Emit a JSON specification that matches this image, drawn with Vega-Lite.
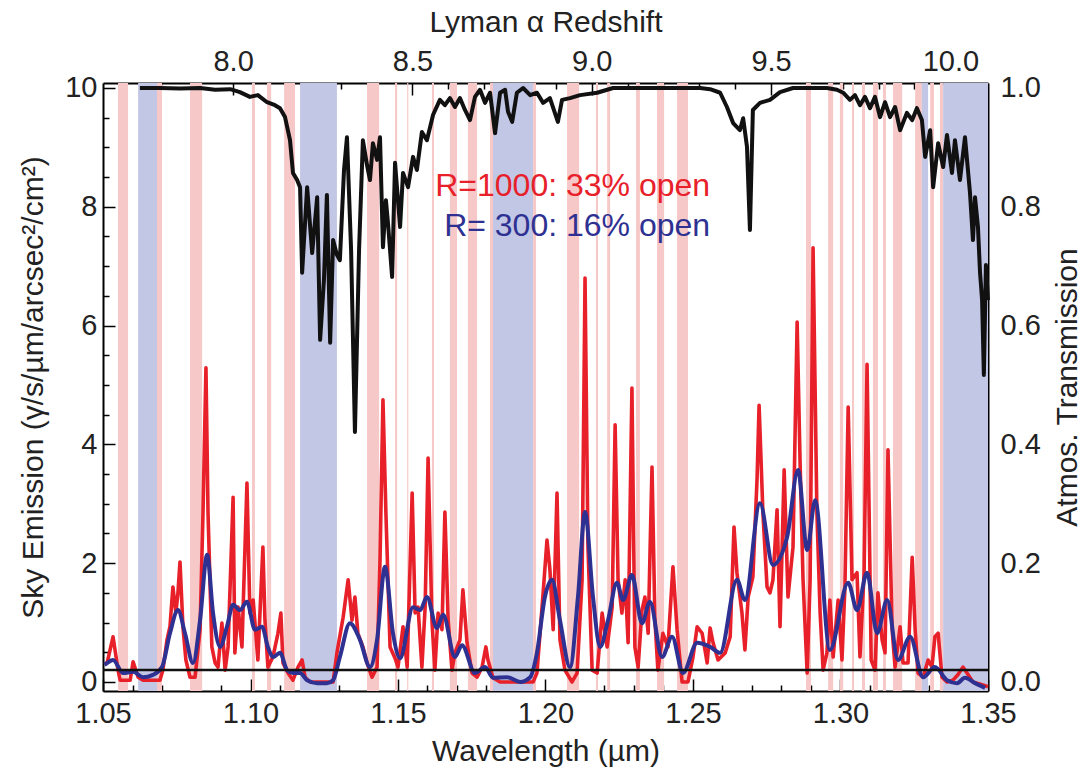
{
  "$schema": "https://vega.github.io/schema/vega-lite/v6.json",
  "width": 885,
  "height": 608,
  "autosize": {"type": "none"},
  "padding": {"left": 103, "top": 83, "right": 98, "bottom": 78},
  "background": "white",
  "config": {
    "view": {"stroke": null},
    "font": "Liberation Sans",
    "axis": {
      "domainColor": "#000", "domainWidth": 2, "tickColor": "#000", "tickWidth": 1.5,
      "labelFontSize": 29, "titleFontSize": 30, "labelColor": "#222", "titleColor": "#222",
      "titleFontWeight": "normal", "labelFont": "Liberation Sans", "titleFont": "Liberation Sans",
      "grid": false, "labelOverlap": false, "labelFlush": false
    }
  },
  "datasets": {
    "bands": [
      {"lam": 1.0551, "lam2": 1.0585, "kind": "pink"},
      {"lam": 1.0619, "lam2": 1.0683, "kind": "blue"},
      {"lam": 1.0683, "lam2": 1.0700, "kind": "pink"},
      {"lam": 1.0795, "lam2": 1.0836, "kind": "pink"},
      {"lam": 1.1005, "lam2": 1.1015, "kind": "pink"},
      {"lam": 1.1056, "lam2": 1.1070, "kind": "pink"},
      {"lam": 1.1114, "lam2": 1.1151, "kind": "pink"},
      {"lam": 1.1168, "lam2": 1.1293, "kind": "blue"},
      {"lam": 1.1395, "lam2": 1.1436, "kind": "pink"},
      {"lam": 1.1490, "lam2": 1.1497, "kind": "pink"},
      {"lam": 1.1531, "lam2": 1.1535, "kind": "pink"},
      {"lam": 1.1615, "lam2": 1.1622, "kind": "pink"},
      {"lam": 1.1676, "lam2": 1.1700, "kind": "pink"},
      {"lam": 1.1737, "lam2": 1.1768, "kind": "pink"},
      {"lam": 1.1812, "lam2": 1.1822, "kind": "pink"},
      {"lam": 1.1822, "lam2": 1.1958, "kind": "blue"},
      {"lam": 1.1958, "lam2": 1.1968, "kind": "pink"},
      {"lam": 1.2073, "lam2": 1.2114, "kind": "pink"},
      {"lam": 1.2171, "lam2": 1.2178, "kind": "pink"},
      {"lam": 1.2209, "lam2": 1.2219, "kind": "pink"},
      {"lam": 1.2307, "lam2": 1.2320, "kind": "pink"},
      {"lam": 1.2378, "lam2": 1.2402, "kind": "pink"},
      {"lam": 1.2446, "lam2": 1.2483, "kind": "pink"},
      {"lam": 1.2883, "lam2": 1.2900, "kind": "pink"},
      {"lam": 1.2958, "lam2": 1.2975, "kind": "pink"},
      {"lam": 1.2998, "lam2": 1.3009, "kind": "pink"},
      {"lam": 1.3039, "lam2": 1.3046, "kind": "pink"},
      {"lam": 1.3073, "lam2": 1.3083, "kind": "pink"},
      {"lam": 1.3110, "lam2": 1.3127, "kind": "pink"},
      {"lam": 1.3144, "lam2": 1.3154, "kind": "pink"},
      {"lam": 1.3178, "lam2": 1.3209, "kind": "pink"},
      {"lam": 1.3253, "lam2": 1.3276, "kind": "pink"},
      {"lam": 1.3276, "lam2": 1.3297, "kind": "blue"},
      {"lam": 1.3304, "lam2": 1.3317, "kind": "pink"},
      {"lam": 1.3337, "lam2": 1.3348, "kind": "pink"},
      {"lam": 1.3348, "lam2": 1.3500, "kind": "blue"}
    ],
    "r1000": [
      {"lam":1.0505,"E":0.30},{"lam":1.0514,"E":0.32},{"lam":1.0534,"E":0.76},{"lam":1.0551,"E":0.20},{"lam":1.0558,"E":0.03},
      {"lam":1.0592,"E":0.03},{"lam":1.0602,"E":0.34},{"lam":1.0619,"E":0.08},{"lam":1.0636,"E":0.03},{"lam":1.0693,"E":0.03},
      {"lam":1.0703,"E":0.20},{"lam":1.0717,"E":0.71},{"lam":1.0727,"E":0.93},{"lam":1.0737,"E":1.60},{"lam":1.0747,"E":1.16},
      {"lam":1.0754,"E":1.50},{"lam":1.0761,"E":2.02},{"lam":1.0771,"E":0.93},{"lam":1.0781,"E":0.37},{"lam":1.0795,"E":0.08},
      {"lam":1.0812,"E":0.08},{"lam":1.0829,"E":0.88},{"lam":1.0839,"E":2.85},{"lam":1.0849,"E":5.29},{"lam":1.0856,"E":2.85},
      {"lam":1.0869,"E":0.59},{"lam":1.0880,"E":0.32},{"lam":1.0890,"E":0.25},{"lam":1.0903,"E":0.99},{"lam":1.0914,"E":0.20},
      {"lam":1.0924,"E":0.59},{"lam":1.0941,"E":3.11},{"lam":1.0947,"E":0.49},{"lam":1.0958,"E":1.26},{"lam":1.0971,"E":0.59},
      {"lam":1.0988,"E":3.35},{"lam":1.0998,"E":1.16},{"lam":1.1009,"E":1.38},{"lam":1.1025,"E":0.37},{"lam":1.1042,"E":2.27},
      {"lam":1.1049,"E":1.04},{"lam":1.1059,"E":0.25},{"lam":1.1076,"E":0.42},{"lam":1.1093,"E":0.82},{"lam":1.1103,"E":1.16},
      {"lam":1.1110,"E":0.32},{"lam":1.1127,"E":0.15},{"lam":1.1144,"E":0.03},{"lam":1.1161,"E":0.25},{"lam":1.1175,"E":0.37},
      {"lam":1.1185,"E":0.08},{"lam":1.1202,"E":0.00},{"lam":1.1280,"E":0.00},{"lam":1.1293,"E":0.49},{"lam":1.1314,"E":1.09},
      {"lam":1.1331,"E":1.72},{"lam":1.1344,"E":1.04},{"lam":1.1354,"E":1.43},{"lam":1.1364,"E":0.82},{"lam":1.1381,"E":0.59},
      {"lam":1.1395,"E":0.32},{"lam":1.1412,"E":0.08},{"lam":1.1429,"E":0.25},{"lam":1.1439,"E":2.05},{"lam":1.1449,"E":4.75},
      {"lam":1.1459,"E":2.85},{"lam":1.1473,"E":0.59},{"lam":1.1490,"E":0.40},{"lam":1.1500,"E":0.25},{"lam":1.1517,"E":0.93},
      {"lam":1.1531,"E":0.25},{"lam":1.1548,"E":3.18},{"lam":1.1558,"E":1.16},{"lam":1.1568,"E":1.26},{"lam":1.1581,"E":0.25},
      {"lam":1.1592,"E":1.26},{"lam":1.1602,"E":3.77},{"lam":1.1615,"E":1.04},{"lam":1.1625,"E":0.20},{"lam":1.1636,"E":1.16},
      {"lam":1.1649,"E":0.88},{"lam":1.1659,"E":2.86},{"lam":1.1670,"E":1.04},{"lam":1.1683,"E":0.20},{"lam":1.1693,"E":0.49},
      {"lam":1.1710,"E":0.71},{"lam":1.1720,"E":1.55},{"lam":1.1734,"E":0.66},{"lam":1.1751,"E":0.15},{"lam":1.1768,"E":0.08},
      {"lam":1.1785,"E":0.25},{"lam":1.1798,"E":0.59},{"lam":1.1805,"E":0.37},{"lam":1.1822,"E":0.07},{"lam":1.1846,"E":0.00},
      {"lam":1.1958,"E":0.00},{"lam":1.1971,"E":0.15},{"lam":1.1992,"E":1.50},{"lam":1.2005,"E":2.39},{"lam":1.2015,"E":1.89},
      {"lam":1.2026,"E":0.88},{"lam":1.2039,"E":3.18},{"lam":1.2049,"E":0.71},{"lam":1.2066,"E":0.20},{"lam":1.2090,"E":0.00},
      {"lam":1.2107,"E":0.15},{"lam":1.2124,"E":1.72},{"lam":1.2134,"E":6.80},{"lam":1.2144,"E":2.27},{"lam":1.2158,"E":0.20},
      {"lam":1.2175,"E":0.15},{"lam":1.2192,"E":1.16},{"lam":1.2209,"E":0.59},{"lam":1.2226,"E":1.26},{"lam":1.2236,"E":4.33},
      {"lam":1.2246,"E":1.72},{"lam":1.2259,"E":1.16},{"lam":1.2270,"E":1.72},{"lam":1.2280,"E":0.66},{"lam":1.2293,"E":4.95},
      {"lam":1.2303,"E":0.59},{"lam":1.2314,"E":0.25},{"lam":1.2327,"E":1.21},{"lam":1.2337,"E":1.43},{"lam":1.2348,"E":0.82},
      {"lam":1.2361,"E":3.62},{"lam":1.2371,"E":1.04},{"lam":1.2381,"E":0.20},{"lam":1.2398,"E":0.82},{"lam":1.2415,"E":0.59},
      {"lam":1.2432,"E":1.94},{"lam":1.2446,"E":0.88},{"lam":1.2463,"E":0.00},{"lam":1.2483,"E":0.00},{"lam":1.2500,"E":0.42},
      {"lam":1.2514,"E":0.93},{"lam":1.2531,"E":0.82},{"lam":1.2548,"E":0.32},{"lam":1.2558,"E":0.91},{"lam":1.2568,"E":0.66},
      {"lam":1.2585,"E":0.37},{"lam":1.2609,"E":0.49},{"lam":1.2626,"E":0.76},{"lam":1.2639,"E":2.61},{"lam":1.2649,"E":1.84},
      {"lam":1.2666,"E":1.16},{"lam":1.2676,"E":0.54},{"lam":1.2687,"E":1.43},{"lam":1.2703,"E":1.77},{"lam":1.2717,"E":3.40},
      {"lam":1.2724,"E":4.66},{"lam":1.2737,"E":2.85},{"lam":1.2751,"E":1.60},{"lam":1.2761,"E":1.50},{"lam":1.2771,"E":1.72},
      {"lam":1.2785,"E":2.90},{"lam":1.2795,"E":0.93},{"lam":1.2809,"E":3.57},{"lam":1.2822,"E":1.43},{"lam":1.2839,"E":2.27},
      {"lam":1.2853,"E":6.06},{"lam":1.2863,"E":3.69},{"lam":1.2873,"E":1.72},{"lam":1.2887,"E":0.15},{"lam":1.2897,"E":1.72},
      {"lam":1.2907,"E":7.31},{"lam":1.2920,"E":2.85},{"lam":1.2931,"E":1.16},{"lam":1.2941,"E":0.20},{"lam":1.2954,"E":0.49},
      {"lam":1.2964,"E":1.38},{"lam":1.2975,"E":0.42},{"lam":1.2992,"E":1.38},{"lam":1.3005,"E":0.37},{"lam":1.3015,"E":1.60},
      {"lam":1.3026,"E":4.63},{"lam":1.3039,"E":1.72},{"lam":1.3056,"E":1.84},{"lam":1.3066,"E":0.42},{"lam":1.3080,"E":1.84},
      {"lam":1.3090,"E":5.35},{"lam":1.3104,"E":0.37},{"lam":1.3117,"E":0.20},{"lam":1.3127,"E":1.50},{"lam":1.3141,"E":0.71},
      {"lam":1.3151,"E":0.49},{"lam":1.3161,"E":3.91},{"lam":1.3175,"E":0.88},{"lam":1.3185,"E":0.25},{"lam":1.3202,"E":0.93},
      {"lam":1.3212,"E":0.32},{"lam":1.3229,"E":0.32},{"lam":1.3243,"E":2.10},{"lam":1.3253,"E":0.88},{"lam":1.3263,"E":0.15},
      {"lam":1.3280,"E":0.08},{"lam":1.3297,"E":0.37},{"lam":1.3310,"E":0.25},{"lam":1.3320,"E":0.76},{"lam":1.3331,"E":0.82},
      {"lam":1.3344,"E":0.08},{"lam":1.3361,"E":0.00},{"lam":1.3381,"E":0.03},{"lam":1.3398,"E":0.12},{"lam":1.3415,"E":0.25},
      {"lam":1.3429,"E":0.15},{"lam":1.3449,"E":0.00},{"lam":1.3483,"E":-0.05},{"lam":1.3500,"E":-0.08}
    ],
    "r300": [
      {"lam":1.0505,"E":0.29},{"lam":1.0514,"E":0.32},{"lam":1.0534,"E":0.37},{"lam":1.0568,"E":0.15},{"lam":1.0602,"E":0.17},
      {"lam":1.0636,"E":0.08},{"lam":1.0669,"E":0.12},{"lam":1.0700,"E":0.25},{"lam":1.0727,"E":0.82},{"lam":1.0754,"E":1.21},
      {"lam":1.0778,"E":0.82},{"lam":1.0805,"E":0.32},{"lam":1.0829,"E":1.04},{"lam":1.0853,"E":2.14},{"lam":1.0873,"E":1.16},
      {"lam":1.0897,"E":0.59},{"lam":1.0920,"E":0.93},{"lam":1.0941,"E":1.30},{"lam":1.0964,"E":1.21},{"lam":1.0988,"E":1.35},
      {"lam":1.1015,"E":0.88},{"lam":1.1039,"E":0.93},{"lam":1.1059,"E":0.59},{"lam":1.1076,"E":0.42},{"lam":1.1100,"E":0.49},
      {"lam":1.1124,"E":0.20},{"lam":1.1144,"E":0.15},{"lam":1.1168,"E":0.15},{"lam":1.1192,"E":0.03},{"lam":1.1226,"E":-0.02},
      {"lam":1.1259,"E":-0.02},{"lam":1.1280,"E":0.03},{"lam":1.1303,"E":0.42},{"lam":1.1337,"E":0.99},{"lam":1.1371,"E":0.71},
      {"lam":1.1405,"E":0.25},{"lam":1.1429,"E":0.71},{"lam":1.1456,"E":1.94},{"lam":1.1483,"E":0.82},{"lam":1.1507,"E":0.40},
      {"lam":1.1551,"E":1.26},{"lam":1.1575,"E":1.21},{"lam":1.1598,"E":1.43},{"lam":1.1632,"E":0.91},{"lam":1.1653,"E":1.13},
      {"lam":1.1693,"E":0.42},{"lam":1.1717,"E":0.62},{"lam":1.1761,"E":0.15},{"lam":1.1795,"E":0.25},{"lam":1.1822,"E":0.07},
      {"lam":1.1870,"E":0.08},{"lam":1.1914,"E":0.00},{"lam":1.1948,"E":0.08},{"lam":1.1971,"E":0.49},{"lam":1.1998,"E":1.43},
      {"lam":1.2022,"E":1.72},{"lam":1.2049,"E":1.04},{"lam":1.2083,"E":0.25},{"lam":1.2110,"E":1.43},{"lam":1.2134,"E":2.86},
      {"lam":1.2161,"E":1.43},{"lam":1.2185,"E":0.59},{"lam":1.2212,"E":1.04},{"lam":1.2242,"E":1.67},{"lam":1.2263,"E":1.38},
      {"lam":1.2293,"E":1.80},{"lam":1.2327,"E":0.99},{"lam":1.2354,"E":1.35},{"lam":1.2395,"E":0.42},{"lam":1.2429,"E":0.76},
      {"lam":1.2466,"E":0.15},{"lam":1.2514,"E":0.66},{"lam":1.2558,"E":0.59},{"lam":1.2592,"E":0.49},{"lam":1.2649,"E":1.72},
      {"lam":1.2676,"E":1.38},{"lam":1.2727,"E":3.01},{"lam":1.2771,"E":1.97},{"lam":1.2819,"E":2.44},{"lam":1.2856,"E":3.57},
      {"lam":1.2887,"E":2.22},{"lam":1.2914,"E":3.06},{"lam":1.2964,"E":0.54},{"lam":1.3026,"E":1.67},{"lam":1.3056,"E":1.21},
      {"lam":1.3090,"E":1.84},{"lam":1.3124,"E":0.82},{"lam":1.3158,"E":1.38},{"lam":1.3195,"E":0.37},{"lam":1.3236,"E":0.76},
      {"lam":1.3280,"E":0.08},{"lam":1.3320,"E":0.25},{"lam":1.3361,"E":0.03},{"lam":1.3395,"E":-0.02},{"lam":1.3422,"E":0.07},
      {"lam":1.3456,"E":-0.02},{"lam":1.3490,"E":-0.10}
    ],
    "hline": [{"lam": 1.05, "E": 0.2}, {"lam": 1.35, "E": 0.2}],
    "notes": [
      {"lam": 1.2558, "E": 8.35, "label": "R=1000: 33% open", "series": "r"},
      {"lam": 1.2558, "E": 7.68, "label": "R= 300: 16% open", "series": "b"}
    ],
    "trans": [
      {"lam":1.0625,"T":1.0},{"lam":1.0693,"T":1.0},{"lam":1.0761,"T":0.999},{"lam":1.0829,"T":1.0},{"lam":1.0880,"T":0.997},
      {"lam":1.0931,"T":0.998},{"lam":1.0964,"T":0.993},{"lam":1.0998,"T":0.985},{"lam":1.1025,"T":0.988},{"lam":1.1056,"T":0.976},
      {"lam":1.1083,"T":0.971},{"lam":1.1100,"T":0.966},{"lam":1.1117,"T":0.951},{"lam":1.1134,"T":0.912},{"lam":1.1144,"T":0.857},
      {"lam":1.1158,"T":0.845},{"lam":1.1168,"T":0.833},{"lam":1.1175,"T":0.689},{"lam":1.1192,"T":0.833},{"lam":1.1209,"T":0.722},
      {"lam":1.1226,"T":0.816},{"lam":1.1236,"T":0.576},{"lam":1.1249,"T":0.677},{"lam":1.1259,"T":0.820},{"lam":1.1270,"T":0.571},
      {"lam":1.1280,"T":0.744},{"lam":1.1293,"T":0.719},{"lam":1.1303,"T":0.710},{"lam":1.1317,"T":0.862},{"lam":1.1327,"T":0.917},
      {"lam":1.1341,"T":0.727},{"lam":1.1354,"T":0.421},{"lam":1.1368,"T":0.727},{"lam":1.1381,"T":0.912},{"lam":1.1395,"T":0.870},
      {"lam":1.1405,"T":0.845},{"lam":1.1415,"T":0.907},{"lam":1.1429,"T":0.879},{"lam":1.1439,"T":0.917},{"lam":1.1449,"T":0.732},
      {"lam":1.1459,"T":0.811},{"lam":1.1466,"T":0.773},{"lam":1.1480,"T":0.682},{"lam":1.1490,"T":0.874},{"lam":1.1507,"T":0.766},
      {"lam":1.1517,"T":0.857},{"lam":1.1534,"T":0.833},{"lam":1.1551,"T":0.884},{"lam":1.1564,"T":0.862},{"lam":1.1581,"T":0.926},
      {"lam":1.1598,"T":0.912},{"lam":1.1619,"T":0.955},{"lam":1.1642,"T":0.980},{"lam":1.1659,"T":0.971},{"lam":1.1676,"T":0.983},
      {"lam":1.1693,"T":0.968},{"lam":1.1710,"T":0.983},{"lam":1.1727,"T":0.963},{"lam":1.1744,"T":0.946},{"lam":1.1761,"T":0.985},
      {"lam":1.1778,"T":0.997},{"lam":1.1795,"T":0.975},{"lam":1.1812,"T":0.992},{"lam":1.1829,"T":0.924},{"lam":1.1846,"T":0.992},
      {"lam":1.1863,"T":0.997},{"lam":1.1873,"T":0.960},{"lam":1.1887,"T":0.943},{"lam":1.1903,"T":0.992},{"lam":1.1924,"T":1.0},
      {"lam":1.1948,"T":0.988},{"lam":1.1971,"T":0.992},{"lam":1.1992,"T":0.975},{"lam":1.2015,"T":0.983},{"lam":1.2042,"T":0.943},
      {"lam":1.2056,"T":0.980},{"lam":1.2083,"T":0.983},{"lam":1.2117,"T":0.988},{"lam":1.2175,"T":0.992},{"lam":1.2229,"T":1.0},
      {"lam":1.2297,"T":1.0},{"lam":1.2398,"T":1.0},{"lam":1.2524,"T":1.0},{"lam":1.2558,"T":0.998},{"lam":1.2592,"T":0.992},
      {"lam":1.2615,"T":0.968},{"lam":1.2636,"T":0.941},{"lam":1.2659,"T":0.929},{"lam":1.2670,"T":0.949},{"lam":1.2683,"T":0.901},
      {"lam":1.2693,"T":0.761},{"lam":1.2703,"T":0.963},{"lam":1.2727,"T":0.975},{"lam":1.2761,"T":0.980},{"lam":1.2795,"T":0.993},
      {"lam":1.2839,"T":1.0},{"lam":1.2897,"T":1.0},{"lam":1.2954,"T":1.0},{"lam":1.2988,"T":0.997},{"lam":1.3009,"T":0.992},
      {"lam":1.3032,"T":0.980},{"lam":1.3049,"T":0.988},{"lam":1.3066,"T":0.971},{"lam":1.3083,"T":0.985},{"lam":1.3100,"T":0.966},
      {"lam":1.3117,"T":0.985},{"lam":1.3134,"T":0.951},{"lam":1.3151,"T":0.976},{"lam":1.3168,"T":0.951},{"lam":1.3185,"T":0.968},
      {"lam":1.3202,"T":0.929},{"lam":1.3225,"T":0.958},{"lam":1.3243,"T":0.946},{"lam":1.3259,"T":0.966},{"lam":1.3276,"T":0.946},
      {"lam":1.3287,"T":0.884},{"lam":1.3304,"T":0.929},{"lam":1.3314,"T":0.833},{"lam":1.3331,"T":0.907},{"lam":1.3348,"T":0.867},
      {"lam":1.3361,"T":0.921},{"lam":1.3378,"T":0.857},{"lam":1.3388,"T":0.912},{"lam":1.3405,"T":0.845},{"lam":1.3422,"T":0.917},
      {"lam":1.3439,"T":0.823},{"lam":1.3449,"T":0.744},{"lam":1.3456,"T":0.816},{"lam":1.3466,"T":0.766},{"lam":1.3473,"T":0.689},
      {"lam":1.3480,"T":0.643},{"lam":1.3486,"T":0.517},{"lam":1.3493,"T":0.702},{"lam":1.3500,"T":0.643}
    ],
    "zt": [{"z": 8.0}, {"z": 8.5}, {"z": 9.0}, {"z": 9.5}, {"z": 10.0}]
  },
  "layer": [
    {
      "data": {"name": "bands"},
      "mark": {"type": "rect"},
      "encoding": {
        "x": {
          "field": "lam", "type": "quantitative",
          "scale": {"domain": [1.05, 1.35], "nice": false, "zero": false},
          "axis": {
            "orient": "bottom",
            "title": "Wavelength (µm)",
            "values": [1.05,1.06,1.07,1.08,1.09,1.10,1.11,1.12,1.13,1.14,1.15,1.16,1.17,1.18,1.19,1.20,1.21,1.22,1.23,1.24,1.25,1.26,1.27,1.28,1.29,1.30,1.31,1.32,1.33,1.34,1.35],
            "labelExpr": "round(datum.value*100)%5==0 ? format(datum.value,'.2f') : ''",
            "tickSize": {"condition": {"test": "round(datum.value*100)%5==0", "value": -12}, "value": -6},
            "labelPadding": 20,
            "titlePadding": 2
          }
        },
        "x2": {"field": "lam2"},
        "color": {
          "field": "kind", "type": "nominal",
          "scale": {"domain": ["pink", "blue"], "range": ["#f7c8c8", "#c3c7e6"]},
          "legend": null
        }
      }
    },
    {
      "data": {"name": "r1000"},
      "mark": {"type": "line", "color": "#e8202a", "strokeWidth": 3.6, "strokeJoin": "round"},
      "encoding": {
        "x": {"field": "lam", "type": "quantitative", "scale": {"domain": [1.05, 1.35], "nice": false, "zero": false}, "axis": null},
        "y": {
          "field": "E", "type": "quantitative",
          "scale": {"domain": [-0.152, 10.084], "nice": false, "zero": false},
          "axis": {
            "orient": "left",
            "title": "Sky Emission (γ/s/µm/arcsec²/cm²)",
            "values": [0,0.5,1,1.5,2,2.5,3,3.5,4,4.5,5,5.5,6,6.5,7,7.5,8,8.5,9,9.5,10],
            "labelExpr": "round(datum.value*2)%4==0 ? format(datum.value,'.0f') : ''",
            "tickSize": {"condition": {"test": "round(datum.value*2)%4==0", "value": -12}, "value": -6},
            "labelPadding": 18,
            "titlePadding": 16
          }
        }
      }
    },
    {
      "data": {"name": "r300"},
      "mark": {"type": "line", "color": "#2e3192", "strokeWidth": 4, "interpolate": "monotone"},
      "encoding": {
        "x": {"field": "lam", "type": "quantitative", "scale": {"domain": [1.05, 1.35], "nice": false, "zero": false}, "axis": null},
        "y": {"field": "E", "type": "quantitative", "scale": {"domain": [-0.152, 10.084], "nice": false, "zero": false}, "axis": null}
      }
    },
    {
      "data": {"name": "hline"},
      "mark": {"type": "line", "color": "#111", "strokeWidth": 2.5},
      "encoding": {
        "x": {"field": "lam", "type": "quantitative", "scale": {"domain": [1.05, 1.35], "nice": false, "zero": false}, "axis": null},
        "y": {"field": "E", "type": "quantitative", "scale": {"domain": [-0.152, 10.084], "nice": false, "zero": false}, "axis": null}
      }
    },
    {
      "data": {"name": "trans"},
      "mark": {"type": "line", "color": "#111", "strokeWidth": 4, "strokeJoin": "round"},
      "encoding": {
        "x": {"field": "lam", "type": "quantitative", "scale": {"domain": [1.05, 1.35], "nice": false, "zero": false}, "axis": null},
        "y": {
          "field": "T", "type": "quantitative",
          "scale": {"domain": [-0.0152, 1.0084], "nice": false, "zero": false},
          "axis": {
            "orient": "right",
            "title": "Atmos. Transmission",
            "titleAngle": 270,
            "titleBaseline": "top",
            "values": [0,0.05,0.1,0.15,0.2,0.25,0.3,0.35,0.4,0.45,0.5,0.55,0.6,0.65,0.7,0.75,0.8,0.85,0.9,0.95,1.0],
            "labelExpr": "round(datum.value*20)%4==0 ? format(datum.value,'.1f') : ''",
            "tickSize": {"condition": {"test": "round(datum.value*20)%4==0", "value": -12}, "value": -6},
            "labelPadding": 24,
            "titlePadding": 12
          }
        }
      }
    },
    {
      "data": {"name": "notes"},
      "mark": {"type": "text", "align": "right", "baseline": "middle", "fontSize": 32, "font": "Liberation Sans"},
      "encoding": {
        "x": {"field": "lam", "type": "quantitative", "scale": {"domain": [1.05, 1.35], "nice": false, "zero": false}, "axis": null},
        "y": {"field": "E", "type": "quantitative", "scale": {"domain": [-0.152, 10.084], "nice": false, "zero": false}, "axis": null},
        "text": {"field": "label"},
        "color": {
          "field": "series", "type": "nominal",
          "scale": {"domain": ["r", "b"], "range": ["#e8202a", "#2e3192"]},
          "legend": null
        }
      }
    },
    {
      "data": {"name": "zt"},
      "mark": {"type": "point", "opacity": 0},
      "encoding": {
        "x": {
          "field": "z", "type": "quantitative",
          "scale": {"domain": [7.6372, 10.105], "nice": false, "zero": false},
          "axis": {
            "orient": "top",
            "title": "Lyman α Redshift",
            "values": [7.7,7.8,7.9,8.0,8.1,8.2,8.3,8.4,8.5,8.6,8.7,8.8,8.9,9.0,9.1,9.2,9.3,9.4,9.5,9.6,9.7,9.8,9.9,10.0,10.1],
            "labelExpr": "round(datum.value*10)%5==0 ? format(datum.value,'.1f') : ''",
            "tickSize": {"condition": {"test": "round(datum.value*10)%5==0", "value": -12}, "value": -6},
            "labelPadding": 19,
            "titlePadding": 4
          }
        }
      }
    }
  ],
  "resolve": {"scale": {"x": "independent", "y": "independent", "color": "independent"}}
}
